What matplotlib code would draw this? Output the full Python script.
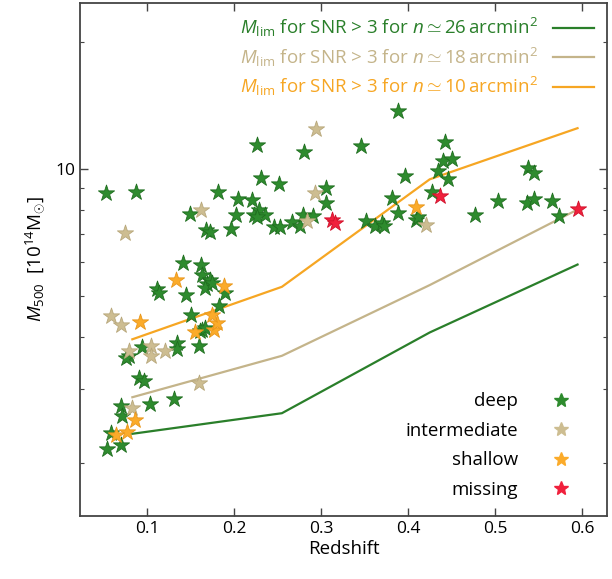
import matplotlib
matplotlib.use("Agg")
import matplotlib.pyplot as plt
from matplotlib.lines import Line2D
from matplotlib.ticker import FixedLocator, NullFormatter

plt.rcParams['font.family'] = ['Open Sans', 'DejaVu Sans']
plt.rcParams['mathtext.fontset'] = 'custom'
plt.rcParams['mathtext.rm'] = 'Open Sans'
plt.rcParams['mathtext.it'] = 'Open Sans:italic'

#---------------- data ----------------
deep_z = [0.053, 0.087, 0.149, 0.168, 0.172, 0.196, 0.202, 0.181, 0.204, 0.221,
          0.2225, 0.229, 0.235, 0.226, 0.231, 0.2513, 0.2264, 0.2808, 0.306, 0.306,
          0.2463, 0.2532, 0.2667, 0.276, 0.2793, 0.2908, 0.346, 0.389, 0.442, 0.440,
          0.451, 0.434, 0.446, 0.396, 0.382, 0.4276, 0.388, 0.4095, 0.411, 0.3517,
          0.3623, 0.370, 0.372, 0.477, 0.503, 0.5386, 0.5445, 0.537, 0.545, 0.566,
          0.574,
          0.141, 0.1115, 0.114, 0.145, 0.162, 0.163, 0.169, 0.172, 0.167, 0.175,
          0.1898, 0.183, 0.151, 0.161, 0.1636, 0.167, 0.1345, 0.1345, 0.160, 0.0942,
          0.0789, 0.0762, 0.0903, 0.0961, 0.0701, 0.0713, 0.103, 0.1306, 0.0586, 0.054,
          0.0701]
deep_m = [8.77, 8.80, 7.82, 7.18, 7.09, 7.19, 7.77, 8.80, 8.50, 8.46,
          7.79, 8.01, 7.79, 7.69, 9.52, 9.21, 11.4, 11.0, 9.01, 8.31,
          7.29, 7.29, 7.47, 7.34, 7.79, 7.75, 11.35, 13.7, 11.56, 10.42,
          10.58, 9.87, 9.48, 9.64, 8.52, 8.80, 7.84, 7.55, 7.68, 7.51,
          7.31, 7.45, 7.31, 7.79, 8.38, 10.05, 9.78, 8.31, 8.50, 8.41,
          7.72,
          5.99, 5.18, 5.07, 5.02, 5.93, 5.61, 5.32, 5.45, 5.22, 5.35,
          5.07, 4.73, 4.50, 4.13, 4.15, 4.19, 3.87, 3.74, 3.79, 3.78,
          3.60, 3.55, 3.18, 3.14, 2.73, 2.59, 2.77, 2.84, 2.36, 2.16,
          2.21]

inter_z = [0.0743, 0.162, 0.2946, 0.2934, 0.284, 0.4207, 0.0586, 0.0698, 0.105, 0.1046,
           0.121, 0.079, 0.160, 0.0828]
inter_m = [7.05, 7.97, 12.46, 8.77, 7.51, 7.38, 4.47, 4.25, 3.80, 3.60,
           3.70, 3.70, 3.10, 2.71]

shallow_z = [0.133, 0.0923, 0.1545, 0.177, 0.180, 0.1748, 0.1884, 0.0866, 0.0766, 0.0647,
             0.4095]
shallow_m = [5.45, 4.33, 4.10, 4.15, 4.31, 4.49, 5.28, 2.53, 2.37, 2.33,
             8.12]

missing_z = [0.3126, 0.316, 0.437, 0.596]
missing_m = [7.55, 7.45, 8.64, 8.05]

lim_z = [0.083, 0.255, 0.425, 0.595]
lim_26 = [2.35, 2.63, 4.09, 5.93]
lim_18 = [2.87, 3.60, 5.30, 8.01]
lim_10 = [3.94, 5.25, 9.45, 12.5]

c_deep = '#2e8b2e'
c_inter = '#cdbd91'
c_shallow = '#fbab2a'
c_missing = '#f0203c'

#---------------- figure ----------------
fig = plt.figure(figsize=(6.12, 5.79), dpi=100)
ax = fig.add_axes([0.131, 0.109, 0.861, 0.886])

l1, = ax.plot(lim_z, lim_26, color='#2a7f2a', lw=1.6)
l2, = ax.plot(lim_z, lim_18, color='#c4b48a', lw=1.6)
l3, = ax.plot(lim_z, lim_10, color='#f6a623', lw=1.6)

star = dict(marker='*', s=150, linewidths=0.6, zorder=3)
ax.scatter(deep_z, deep_m, color=c_deep, edgecolors='#1f6e1f', **star)
ax.scatter(inter_z, inter_m, color=c_inter, edgecolors='#b8a87c', **star)
ax.scatter(shallow_z, shallow_m, color=c_shallow, edgecolors='#e8961a', **star)
ax.scatter(missing_z, missing_m, color=c_missing, edgecolors='#d0102a', **star)

ax.set_yscale('log')
ax.set_xlim(0.023, 0.629)
ax.set_ylim(1.5, 24.8)

ax.yaxis.set_major_locator(FixedLocator([10]))
ax.yaxis.set_major_formatter(plt.FixedFormatter(['10']))
ax.yaxis.set_minor_locator(FixedLocator([2, 3, 4, 5, 6, 7, 8, 9, 20]))
ax.yaxis.set_minor_formatter(NullFormatter())
ax.set_xticks([0.1, 0.2, 0.3, 0.4, 0.5, 0.6])
ax.set_xticklabels(['0.1', '0.2', '0.3', '0.4', '0.5', '0.6'])

ax.tick_params(which='both', direction='in', top=True, right=True,
               labelsize=12.5, color='#444444')
ax.tick_params(which='major', length=6, width=1)
ax.tick_params(which='minor', length=3, width=0.8)
for sp in ax.spines.values():
    sp.set_color('#444444')
    sp.set_linewidth(1.3)

ax.set_xlabel('Redshift', fontsize=13.5, labelpad=2)
ax.set_ylabel(r'$M_{500}$  [$10^{14}\mathrm{M}_{\odot}$]', fontsize=13.5, labelpad=6)

# legend of the mass limits (coloured text, line on the right)
lab = r'$M_{\mathrm{lim}}$ for SNR > 3 for $n \simeq %s\,\mathrm{arcmin}^2$'
leg1 = ax.legend([l1, l2, l3], [lab % '26', lab % '18', lab % '10'],
                 loc='upper right', markerfirst=False, frameon=False,
                 fontsize=13.5, handlelength=2.2, labelspacing=0.35,
                 borderaxespad=0.3)
for t, c in zip(leg1.get_texts(), ['#2a7f2a', '#c4b48a', '#f6a623']):
    t.set_color(c)
ax.add_artist(leg1)

# legend of the cluster depth (markerfirst=False keeps the text right-aligned)
hs = [Line2D([], [], ls='', marker='*', ms=10, color=c) for c in
      [c_deep, c_inter, c_shallow, c_missing]]
ax.legend(hs, ['deep', 'intermediate', 'shallow', 'missing'],
          loc='lower right', markerfirst=False, frameon=False,
          fontsize=13.5, handlelength=2.0, handletextpad=1.3,
          labelspacing=0.62, bbox_to_anchor=(0.98, 0.0))

fig.savefig('out.png', dpi=100)
